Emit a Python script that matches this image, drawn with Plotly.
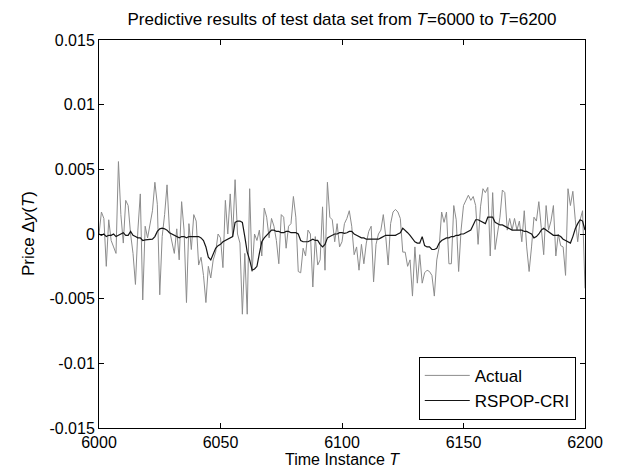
import plotly.graph_objects as go

# Time instances T = 6000 ... 6200
T_START, T_END = 6000, 6200
time_instance = list(range(T_START, T_END + 1))

# Price change values are listed in units of 1e-3
UNIT = 1e-3

actual_milli = [
    # 6000-6049
    0.0, 1.7, 1.2, -2.5, 1.1, -0.5, -1.0, -1.5, 5.6, 1.5,
    -0.7, 2.6, 2.2, 0.0, -1.5, -3.9, 0.3, 3.1, -5.1, 0.6,
    -0.3, 0.8, 1.8, 4.0, 2.3, -4.7, -0.2, 1.5, 3.8, 0.3,
    -0.6, -1.5, 0.4, -2.0, 2.5, 0.3, -5.3, 0.8, -1.2, 1.5,
    1.0, -2.4, -1.8, -3.2, -5.3, -2.5, -3.4, -2.0, -1.4, 0.0,
    # 6050-6099
    -0.3, -2.6, 2.6, 0.0, 3.1, -0.2, 4.2, 0.0, -0.7, -6.2,
    -1.5, -6.2, 3.5, -2.9, 0.0, -0.5, 0.3, -1.7, 2.0, 1.3,
    -0.3, 1.2, 0.6, -0.5, -2.3, 1.5, 1.3, -1.1, 0.6, 0.8,
    2.9, 1.3, -2.9, -3.0, -1.1, -1.7, 0.3, 0.0, -4.1, -0.2,
    -2.4, -2.0, 2.1, -2.8, 4.0, 1.3, 1.1, -0.6, 0.8, -1.0,
    # 6100-6149
    -0.6, 0.8, 1.2, 1.8, 0.6, -1.6, -1.0, -2.8, -0.8, -2.3,
    -0.7, 0.2, 0.6, -3.7, -0.8, 0.0, 0.3, 1.5, -0.2, -2.4,
    0.8, 1.7, 1.9, 1.7, 1.2, -1.4, -1.4, -2.5, -2.0, -4.8,
    -1.0, -3.8, -1.6, -3.8, -3.0, -2.8, -2.9, -3.2, -4.8, -2.0,
    -1.0, 1.7, 0.9, 1.7, -2.3, -2.3, 2.2, 1.1, -2.9, 0.3,
    # 6150-6200
    2.2, 2.6, 3.0, 2.6, 2.9, 2.2, -0.8, 2.1, 3.5, 3.2,
    3.6, -1.7, 3.2, -1.2, 0.0, 1.3, 3.4, 3.2, 0.3, 1.2,
    0.3, 1.2, 0.3, 1.0, -0.6, 1.8, -1.0, -2.9, -1.0, 1.3,
    1.0, 2.5, 0.5, -1.6, 2.2, 0.3, 1.0, 2.2, -1.7, 0.0,
    -0.9, -1.0, -3.2, 3.5, 2.2, 3.3, 1.1, -0.6, 1.1, 1.8,
    -4.2,
]

rspop_cri_milli = [
    # 6000-6049
    0.0, -0.1, 0.0, -0.2, -0.1, -0.1, 0.0, -0.2, -0.1, 0.0,
    0.1, -0.1, -0.1, 0.2, -0.1, -0.2, -0.3, -0.3, -0.5, -0.45,
    -0.45, -0.45, -0.4, -0.2, 0.2, 0.4, 0.45, 0.4, 0.3, 0.1,
    0.0, -0.1, -0.2, -0.3, -0.2, -0.2, -0.3, -0.2, -0.2, -0.2,
    -0.2, -0.2, -0.3, -0.5, -1.0, -1.8, -2.0, -1.5, -1.1, -0.9,
    # 6050-6099
    -0.8, -0.6, -0.5, -0.4, -0.3, -0.2, 0.9, 1.0, 1.0, 0.9,
    -0.2, -1.4, -2.0, -2.8, -2.7, -2.5, -1.5, -0.6, -0.3, -0.1,
    0.1, 0.3, 0.3, 0.2, 0.2, 0.1, 0.1, 0.2, 0.2, 0.1,
    0.1, 0.1, 0.0, -0.5, -0.6, -0.6, -0.6, -0.5, -0.4, -0.5,
    -0.5, -0.8, -1.0, -0.8, -0.3, -0.2, -0.1, 0.0, 0.0, 0.1,
    # 6100-6149
    0.1, 0.05, 0.1, 0.2, 0.2, 0.0, -0.1, -0.2, -0.3, -0.3,
    -0.4, -0.4, -0.4, -0.45, -0.45, -0.4, -0.3, -0.2, -0.1, -0.1,
    -0.1, -0.1, -0.1, 0.0, 0.1, 0.45, 0.3, 0.1, -0.1, -0.4,
    -0.6, -0.7, -0.7, -0.2, -0.9, -1.0, -1.0, -1.2, -1.2, -1.1,
    -0.7, -0.5, -0.4, -0.3, -0.3, -0.2, -0.2, -0.1, -0.1, 0.0,
    # 6150-6200
    0.0, 0.1, 0.2, 0.3, 0.7, 1.1, 1.1, 1.0, 0.9, 0.8,
    1.3, 1.3, 1.3, 0.9, 0.8, 0.7, 0.7, 0.6, 0.5, 0.4,
    0.3, 0.3, 0.3, 0.3, 0.3, 0.2, 0.2, 0.1, 0.0, -0.3,
    -0.2, 0.0, 0.3, 0.45, 0.3, 0.2, 0.0, -0.1, -0.1, -0.1,
    -0.2, -0.4, -0.5, -0.6, -0.7, -0.2, 0.4, 0.8, 1.1, 1.0,
    0.3,
]

assert len(actual_milli) == len(time_instance)
assert len(rspop_cri_milli) == len(time_instance)

actual = [v * UNIT for v in actual_milli]
rspop_cri = [v * UNIT for v in rspop_cri_milli]

y_tick_vals = [-0.015, -0.01, -0.005, 0, 0.005, 0.01, 0.015]
y_tick_text = ["-0.015", "-0.01", "-0.005", "0", "0.005", "0.01", "0.015"]
x_tick_vals = [6000, 6050, 6100, 6150, 6200]

FONT = "Liberation Sans, Arial, Helvetica, sans-serif"
FS = 17
TICK_FS = 16

fig = go.Figure()
fig.add_trace(go.Scatter(
    x=time_instance, y=actual, mode="lines", name="Actual",
    line=dict(color="#8c8c8c", width=1),
))
fig.add_trace(go.Scatter(
    x=time_instance, y=rspop_cri, mode="lines", name="RSPOP-CRI",
    line=dict(color="#151515", width=1.2),
))

axis_common = dict(
    showline=True, linecolor="black", linewidth=1, mirror="ticks",
    ticks="inside", ticklen=5, tickcolor="black", tickwidth=1,
    showgrid=False, zeroline=False,
    tickfont=dict(family=FONT, size=TICK_FS, color="black"),
)

fig.update_xaxes(range=[T_START, T_END], tickvals=x_tick_vals, **axis_common)
fig.update_yaxes(range=[-0.015, 0.015], tickvals=y_tick_vals,
                 ticktext=y_tick_text, **axis_common)

fig.update_layout(
    width=630, height=468,
    margin=dict(l=99, r=45, t=40, b=40),
    paper_bgcolor="white", plot_bgcolor="white",
    font=dict(family=FONT, size=FS, color="black"),
    title=dict(
        text="Predictive results of test data set from <i>T</i>=6000 to <i>T</i>=6200",
        x=(99 + 585) / 2 / 630, xanchor="center",
        y=1 - 19 / 468, yanchor="middle", yref="container",
        font=dict(family=FONT, size=FS, color="black"),
    ),
    legend=dict(
        x=0.981, xanchor="right", y=0.021, yanchor="bottom",
        bgcolor="white", bordercolor="black", borderwidth=1,
        font=dict(family=FONT, size=FS, color="black"),
        tracegroupgap=0, itemwidth=45,
    ),
    showlegend=True,
    annotations=[
        dict(text="Time Instance <i>T</i>", xref="paper", yref="paper",
             x=0.5, y=-(459 - 428) / 388, xanchor="center", yanchor="middle",
             showarrow=False, font=dict(family=FONT, size=16, color="black")),
        dict(text="Price Δ<i>y</i>(<i>T</i>)", xref="paper", yref="paper",
             x=-(99 - 28) / 486, y=0.5, xanchor="center", yanchor="middle",
             textangle=-90,
             showarrow=False, font=dict(family=FONT, size=FS, color="black")),
    ],
)

fig.write_html("out.html")
